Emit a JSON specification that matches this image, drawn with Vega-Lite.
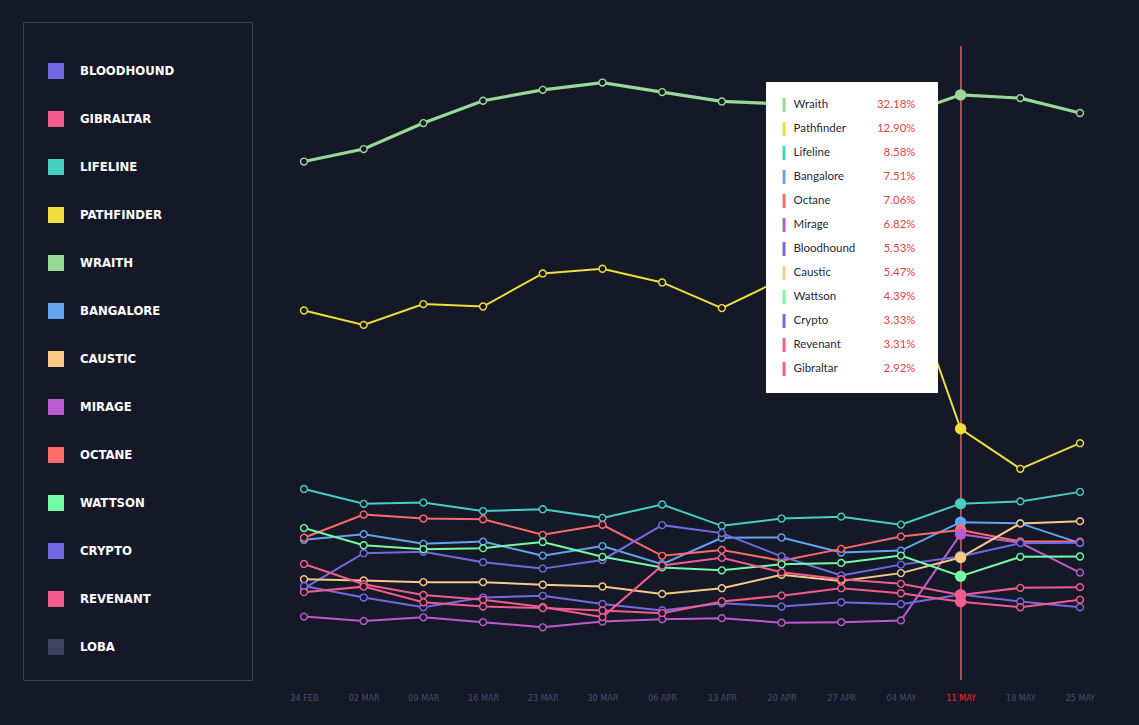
{
  "$schema": "https://vega.github.io/schema/vega-lite/v6.json",
  "autosize": {"type": "none"},
  "padding": {"left": 304, "top": 46, "right": 59, "bottom": 45},
  "width": 776,
  "height": 634,
  "background": "#151827",
  "config": {"view": {"stroke": null}},
  "data": {"values": [
    {"d":"2020-02-24","legend":"Wraith","pct":28.33},{"d":"2020-03-02","legend":"Wraith","pct":29.05},{"d":"2020-03-09","legend":"Wraith","pct":30.55},{"d":"2020-03-16","legend":"Wraith","pct":31.84},{"d":"2020-03-23","legend":"Wraith","pct":32.47},{"d":"2020-03-30","legend":"Wraith","pct":32.89},{"d":"2020-04-06","legend":"Wraith","pct":32.34},{"d":"2020-04-13","legend":"Wraith","pct":31.80},{"d":"2020-04-20","legend":"Wraith","pct":31.66},{"d":"2020-04-27","legend":"Wraith","pct":31.32},{"d":"2020-05-04","legend":"Wraith","pct":30.98},{"d":"2020-05-11","legend":"Wraith","pct":32.18},{"d":"2020-05-18","legend":"Wraith","pct":31.99},{"d":"2020-05-25","legend":"Wraith","pct":31.13},
    {"d":"2020-02-24","legend":"Pathfinder","pct":19.73},{"d":"2020-03-02","legend":"Pathfinder","pct":18.90},{"d":"2020-03-09","legend":"Pathfinder","pct":20.10},{"d":"2020-03-16","legend":"Pathfinder","pct":19.96},{"d":"2020-03-23","legend":"Pathfinder","pct":21.87},{"d":"2020-03-30","legend":"Pathfinder","pct":22.14},{"d":"2020-04-06","legend":"Pathfinder","pct":21.35},{"d":"2020-04-13","legend":"Pathfinder","pct":19.87},{"d":"2020-04-20","legend":"Pathfinder","pct":21.53},{"d":"2020-04-27","legend":"Pathfinder","pct":22.10},{"d":"2020-05-04","legend":"Pathfinder","pct":22.66},{"d":"2020-05-11","legend":"Pathfinder","pct":12.90},{"d":"2020-05-18","legend":"Pathfinder","pct":10.59},{"d":"2020-05-25","legend":"Pathfinder","pct":12.07},
    {"d":"2020-02-24","legend":"Lifeline","pct":9.43},{"d":"2020-03-02","legend":"Lifeline","pct":8.57},{"d":"2020-03-09","legend":"Lifeline","pct":8.64},{"d":"2020-03-16","legend":"Lifeline","pct":8.15},{"d":"2020-03-23","legend":"Lifeline","pct":8.26},{"d":"2020-03-30","legend":"Lifeline","pct":7.76},{"d":"2020-04-06","legend":"Lifeline","pct":8.53},{"d":"2020-04-13","legend":"Lifeline","pct":7.30},{"d":"2020-04-20","legend":"Lifeline","pct":7.72},{"d":"2020-04-27","legend":"Lifeline","pct":7.83},{"d":"2020-05-04","legend":"Lifeline","pct":7.37},{"d":"2020-05-11","legend":"Lifeline","pct":8.58},{"d":"2020-05-18","legend":"Lifeline","pct":8.71},{"d":"2020-05-25","legend":"Lifeline","pct":9.26},
    {"d":"2020-02-24","legend":"Bangalore","pct":6.49},{"d":"2020-03-02","legend":"Bangalore","pct":6.82},{"d":"2020-03-09","legend":"Bangalore","pct":6.26},{"d":"2020-03-16","legend":"Bangalore","pct":6.39},{"d":"2020-03-23","legend":"Bangalore","pct":5.58},{"d":"2020-03-30","legend":"Bangalore","pct":6.13},{"d":"2020-04-06","legend":"Bangalore","pct":5.09},{"d":"2020-04-13","legend":"Bangalore","pct":6.61},{"d":"2020-04-20","legend":"Bangalore","pct":6.63},{"d":"2020-04-27","legend":"Bangalore","pct":5.76},{"d":"2020-05-04","legend":"Bangalore","pct":5.87},{"d":"2020-05-11","legend":"Bangalore","pct":7.51},{"d":"2020-05-18","legend":"Bangalore","pct":7.44},{"d":"2020-05-25","legend":"Bangalore","pct":6.30},
    {"d":"2020-02-24","legend":"Octane","pct":6.61},{"d":"2020-03-02","legend":"Octane","pct":7.95},{"d":"2020-03-09","legend":"Octane","pct":7.72},{"d":"2020-03-16","legend":"Octane","pct":7.68},{"d":"2020-03-23","legend":"Octane","pct":6.78},{"d":"2020-03-30","legend":"Octane","pct":7.36},{"d":"2020-04-06","legend":"Octane","pct":5.57},{"d":"2020-04-13","legend":"Octane","pct":5.91},{"d":"2020-04-20","legend":"Octane","pct":5.29},{"d":"2020-04-27","legend":"Octane","pct":5.97},{"d":"2020-05-04","legend":"Octane","pct":6.68},{"d":"2020-05-11","legend":"Octane","pct":7.06},{"d":"2020-05-18","legend":"Octane","pct":6.40},{"d":"2020-05-25","legend":"Octane","pct":6.39},
    {"d":"2020-02-24","legend":"Mirage","pct":2.06},{"d":"2020-03-02","legend":"Mirage","pct":1.81},{"d":"2020-03-09","legend":"Mirage","pct":2.02},{"d":"2020-03-16","legend":"Mirage","pct":1.74},{"d":"2020-03-23","legend":"Mirage","pct":1.44},{"d":"2020-03-30","legend":"Mirage","pct":1.77},{"d":"2020-04-06","legend":"Mirage","pct":1.91},{"d":"2020-04-13","legend":"Mirage","pct":1.97},{"d":"2020-04-20","legend":"Mirage","pct":1.71},{"d":"2020-04-27","legend":"Mirage","pct":1.74},{"d":"2020-05-04","legend":"Mirage","pct":1.84},{"d":"2020-05-11","legend":"Mirage","pct":6.82},{"d":"2020-05-18","legend":"Mirage","pct":6.32},{"d":"2020-05-25","legend":"Mirage","pct":4.60},
    {"d":"2020-02-24","legend":"Bloodhound","pct":3.69},{"d":"2020-03-02","legend":"Bloodhound","pct":5.72},{"d":"2020-03-09","legend":"Bloodhound","pct":5.80},{"d":"2020-03-16","legend":"Bloodhound","pct":5.20},{"d":"2020-03-23","legend":"Bloodhound","pct":4.83},{"d":"2020-03-30","legend":"Bloodhound","pct":5.33},{"d":"2020-04-06","legend":"Bloodhound","pct":7.34},{"d":"2020-04-13","legend":"Bloodhound","pct":6.88},{"d":"2020-04-20","legend":"Bloodhound","pct":5.54},{"d":"2020-04-27","legend":"Bloodhound","pct":4.44},{"d":"2020-05-04","legend":"Bloodhound","pct":5.06},{"d":"2020-05-11","legend":"Bloodhound","pct":5.53},{"d":"2020-05-18","legend":"Bloodhound","pct":6.30},{"d":"2020-05-25","legend":"Bloodhound","pct":6.32},
    {"d":"2020-02-24","legend":"Caustic","pct":4.22},{"d":"2020-03-02","legend":"Caustic","pct":4.15},{"d":"2020-03-09","legend":"Caustic","pct":4.05},{"d":"2020-03-16","legend":"Caustic","pct":4.05},{"d":"2020-03-23","legend":"Caustic","pct":3.90},{"d":"2020-03-30","legend":"Caustic","pct":3.80},{"d":"2020-04-06","legend":"Caustic","pct":3.37},{"d":"2020-04-13","legend":"Caustic","pct":3.70},{"d":"2020-04-20","legend":"Caustic","pct":4.47},{"d":"2020-04-27","legend":"Caustic","pct":4.12},{"d":"2020-05-04","legend":"Caustic","pct":4.57},{"d":"2020-05-11","legend":"Caustic","pct":5.47},{"d":"2020-05-18","legend":"Caustic","pct":7.44},{"d":"2020-05-25","legend":"Caustic","pct":7.57},
    {"d":"2020-02-24","legend":"Wattson","pct":7.17},{"d":"2020-03-02","legend":"Wattson","pct":6.18},{"d":"2020-03-09","legend":"Wattson","pct":5.95},{"d":"2020-03-16","legend":"Wattson","pct":6.01},{"d":"2020-03-23","legend":"Wattson","pct":6.37},{"d":"2020-03-30","legend":"Wattson","pct":5.51},{"d":"2020-04-06","legend":"Wattson","pct":4.90},{"d":"2020-04-13","legend":"Wattson","pct":4.73},{"d":"2020-04-20","legend":"Wattson","pct":5.08},{"d":"2020-04-27","legend":"Wattson","pct":5.16},{"d":"2020-05-04","legend":"Wattson","pct":5.58},{"d":"2020-05-11","legend":"Wattson","pct":4.39},{"d":"2020-05-18","legend":"Wattson","pct":5.51},{"d":"2020-05-25","legend":"Wattson","pct":5.53},
    {"d":"2020-02-24","legend":"Crypto","pct":3.83},{"d":"2020-03-02","legend":"Crypto","pct":3.16},{"d":"2020-03-09","legend":"Crypto","pct":2.60},{"d":"2020-03-16","legend":"Crypto","pct":3.16},{"d":"2020-03-23","legend":"Crypto","pct":3.26},{"d":"2020-03-30","legend":"Crypto","pct":2.79},{"d":"2020-04-06","legend":"Crypto","pct":2.41},{"d":"2020-04-13","legend":"Crypto","pct":2.83},{"d":"2020-04-20","legend":"Crypto","pct":2.64},{"d":"2020-04-27","legend":"Crypto","pct":2.89},{"d":"2020-05-04","legend":"Crypto","pct":2.78},{"d":"2020-05-11","legend":"Crypto","pct":3.33},{"d":"2020-05-18","legend":"Crypto","pct":2.93},{"d":"2020-05-25","legend":"Crypto","pct":2.60},
    {"d":"2020-02-24","legend":"Revenant","pct":5.10},{"d":"2020-03-02","legend":"Revenant","pct":3.93},{"d":"2020-03-09","legend":"Revenant","pct":3.31},{"d":"2020-03-16","legend":"Revenant","pct":3.03},{"d":"2020-03-23","legend":"Revenant","pct":2.62},{"d":"2020-03-30","legend":"Revenant","pct":2.03},{"d":"2020-04-06","legend":"Revenant","pct":5.01},{"d":"2020-04-13","legend":"Revenant","pct":5.45},{"d":"2020-04-20","legend":"Revenant","pct":4.62},{"d":"2020-04-27","legend":"Revenant","pct":4.22},{"d":"2020-05-04","legend":"Revenant","pct":3.95},{"d":"2020-05-11","legend":"Revenant","pct":3.31},{"d":"2020-05-18","legend":"Revenant","pct":3.72},{"d":"2020-05-25","legend":"Revenant","pct":3.76},
    {"d":"2020-02-24","legend":"Gibraltar","pct":3.47},{"d":"2020-03-02","legend":"Gibraltar","pct":3.79},{"d":"2020-03-09","legend":"Gibraltar","pct":2.89},{"d":"2020-03-16","legend":"Gibraltar","pct":2.64},{"d":"2020-03-23","legend":"Gibraltar","pct":2.55},{"d":"2020-03-30","legend":"Gibraltar","pct":2.41},{"d":"2020-04-06","legend":"Gibraltar","pct":2.26},{"d":"2020-04-13","legend":"Gibraltar","pct":2.93},{"d":"2020-04-20","legend":"Gibraltar","pct":3.27},{"d":"2020-04-27","legend":"Gibraltar","pct":3.70},{"d":"2020-05-04","legend":"Gibraltar","pct":3.41},{"d":"2020-05-11","legend":"Gibraltar","pct":2.92},{"d":"2020-05-18","legend":"Gibraltar","pct":2.60},{"d":"2020-05-25","legend":"Gibraltar","pct":3.03}
  ]},
  "encoding": {
    "color": {
      "field": "legend", "type": "nominal",
      "scale": {
        "domain": ["Bloodhound","Gibraltar","Lifeline","Pathfinder","Wraith","Bangalore","Caustic","Mirage","Octane","Wattson","Crypto","Revenant","Loba"],
        "range": ["#7469e4","#f25c8e","#45cfc0","#efde3c","#97d996","#62a5f0","#f8ca86","#bb5bcf","#ff6b6b","#75fba5","#7469e4","#f25c8e","#404260"]
      },
      "legend": {
        "orient": "none", "legendX": -281, "legendY": -24,
        "padding": 25, "strokeColor": "#3b3e58",
        "title": "Legend pick rate, weekly, Season 4",
        "titleColor": "transparent", "titleFontSize": 10, "titlePadding": 6,
        "titleFont": "DejaVu Sans Condensed",
        "symbolType": "square", "symbolSize": 256, "symbolStrokeWidth": 0,
        "labelExpr": "upper(datum.label)",
        "labelColor": "#ffffff", "labelFont": "DejaVu Sans Condensed, sans-serif",
        "labelFontWeight": "bold", "labelFontSize": 13, "labelOffset": 16,
        "rowPadding": 32,
        "encode": {"symbols": {"update": {"fill": {"scale": "color", "field": "value"}, "stroke": {"value": "transparent"}, "opacity": {"value": 1}}}}
      }
    }
  },
  "layer": [
    {
      "encoding": {
        "x": {"field": "d", "type": "temporal",
          "scale": {"type": "utc", "nice": false, "padding": 0},
          "axis": {
            "values": [
              {"year":2020,"month":2,"date":24,"utc":true},{"year":2020,"month":3,"date":2,"utc":true},{"year":2020,"month":3,"date":9,"utc":true},{"year":2020,"month":3,"date":16,"utc":true},{"year":2020,"month":3,"date":23,"utc":true},{"year":2020,"month":3,"date":30,"utc":true},{"year":2020,"month":4,"date":6,"utc":true},{"year":2020,"month":4,"date":13,"utc":true},{"year":2020,"month":4,"date":20,"utc":true},{"year":2020,"month":4,"date":27,"utc":true},{"year":2020,"month":5,"date":4,"utc":true},{"year":2020,"month":5,"date":11,"utc":true},{"year":2020,"month":5,"date":18,"utc":true},{"year":2020,"month":5,"date":25,"utc":true}
            ],
            "labelExpr": "upper(utcFormat(datum.value, '%d %b'))",
            "labelColor": {"expr": "utcdate(datum.value) == 11 && utcmonth(datum.value) == 4 ? '#ff2424' : '#4b4f6c'"},
            "labelFont": "DejaVu Sans Condensed", "labelFontSize": 9, "labelPadding": 13,
            "labelFlush": false, "labelBound": false,
            "domain": false, "ticks": false, "grid": false, "title": null, "labelOverlap": false
          }
        },
        "y": {"field": "pct", "type": "quantitative", "scale": {"domain": [-1.6, 35], "nice": false, "zero": false}, "axis": null}
      },
      "layer": [
        {
          "mark": {"type": "rule", "color": "#b8505e", "strokeWidth": 1, "opacity": 0.7},
          "encoding": {"x": {"datum": {"year":2020,"month":5,"date":11,"utc":true}, "type": "temporal"}, "y": null, "color": null}
        },
        {
          "mark": {"type": "line", "interpolate": "linear"},
          "encoding": {
            "strokeWidth": {"condition": {"test": "datum.legend === 'Wraith'", "value": 3.2}, "value": 2}
          }
        },
        {
          "transform": [{"filter": {"not": {"field": "d", "equal": {"year":2020,"month":5,"date":11,"utc":true}}}}],
          "mark": {"type": "point", "shape": "circle", "filled": false, "fill": "#151827", "fillOpacity": 1, "opacity": 1, "size": 48, "strokeWidth": 1.4}
        },
        {
          "transform": [{"filter": {"field": "d", "equal": {"year":2020,"month":5,"date":11,"utc":true}}}],
          "mark": {"type": "circle", "opacity": 1, "size": 130}
        }
      ]
    },
    {
      "transform": [{"filter": {"field": "d", "equal": {"year":2020,"month":5,"date":11,"utc":true}}}],
      "encoding": {
        "y": {"field": "legend", "type": "nominal",
          "scale": {"type": "point", "padding": 0, "range": [59, 323],
            "domain": ["Wraith","Pathfinder","Lifeline","Bangalore","Octane","Mirage","Bloodhound","Caustic","Wattson","Crypto","Revenant","Gibraltar"]},
          "axis": null}
      },
      "layer": [
        {
          "mark": {"type": "rect", "fill": "#ffffff", "xOffset": -15, "x2Offset": 156, "yOffset": -23, "y2Offset": 24},
          "encoding": {
            "x": {"datum": {"year":2020,"month":4,"date":20,"utc":true}, "type": "temporal"},
            "x2": {"datum": {"year":2020,"month":4,"date":20,"utc":true}},
            "y": {"datum": "Wraith", "type": "nominal"},
            "y2": {"datum": "Gibraltar"},
            "color": null
          }
        },
        {
          "mark": {"type": "rule", "strokeWidth": 3, "xOffset": 2.5, "yOffset": -7, "y2Offset": 7},
          "encoding": {
            "x": {"datum": {"year":2020,"month":4,"date":20,"utc":true}, "type": "temporal"},
            "y2": {"field": "legend"}
          }
        },
        {
          "mark": {"type": "text", "align": "left", "baseline": "middle", "dx": 12, "font": "Lato", "fontSize": 11.5, "color": "#262939"},
          "encoding": {
            "x": {"datum": {"year":2020,"month":4,"date":20,"utc":true}, "type": "temporal"},
            "text": {"field": "legend"},
            "color": null
          }
        },
        {
          "mark": {"type": "text", "align": "right", "baseline": "middle", "dx": 134, "font": "Lato", "fontSize": 11.5, "color": "#e2434b",
            "text": {"expr": "format(datum.pct, '.2f') + '%'"}},
          "encoding": {
            "x": {"datum": {"year":2020,"month":4,"date":20,"utc":true}, "type": "temporal"},
            "color": null
          }
        }
      ]
    }
  ],
  "resolve": {"scale": {"y": "independent"}}
}
